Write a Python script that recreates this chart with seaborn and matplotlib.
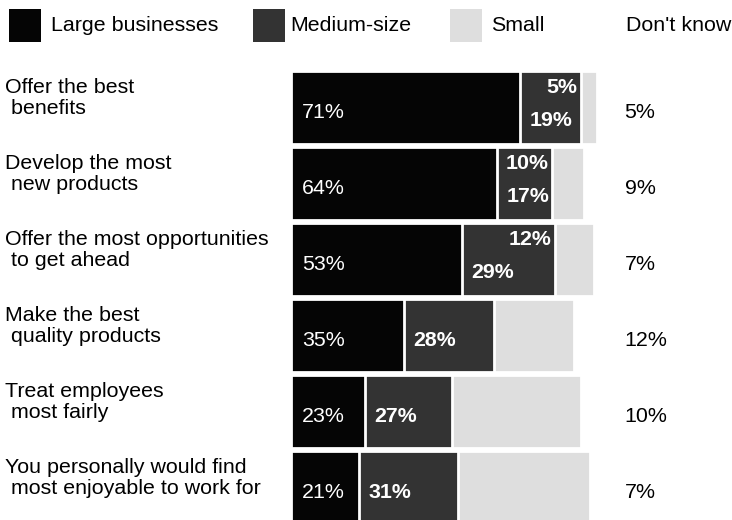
import matplotlib
matplotlib.use("Agg")
import matplotlib.pyplot as plt
import seaborn as sns
import pandas as pd
from matplotlib.patches import Rectangle
from matplotlib.transforms import blended_transform_factory

# ---- data ----
categories = [
    "Offer the best\n benefits",
    "Develop the most\n new products",
    "Offer the most opportunities\n to get ahead",
    "Make the best\n quality products",
    "Treat employees\n most fairly",
    "You personally would find\n most enjoyable to work for",
]
large = [71, 64, 53, 35, 23, 21]
medium = [19, 17, 29, 28, 27, 31]
small = [5, 10, 12, 25, 40, 41]
dont_know = [5, 9, 7, 12, 10, 7]
small_labeled = [True, True, True, False, False, False]
legend_labels = ["Large businesses", "Medium-size", "Small", "Don't know"]

# ---- style ----
LARGE_C = "#050505"
MED_C = "#333333"
SMALL_C = "#dedede"
FS = 15.4

sns.set_theme(style="white")
plt.rcParams["font.family"] = ["Liberation Sans", "DejaVu Sans"]

W, H = 732, 520
fig = plt.figure(figsize=(W / 100, H / 100), dpi=100)
fig.patch.set_facecolor("white")
ax = fig.add_axes([291 / W, (H - 525.5) / H, 322 / W, 456 / H])

df = pd.DataFrame({"category": categories, "large": large,
                   "medium": medium, "small": small})
df["lm"] = df["large"] + df["medium"]
df["lms"] = df["lm"] + df["small"]

for col, color in [("lms", SMALL_C), ("lm", MED_C), ("large", LARGE_C)]:
    sns.barplot(data=df, y="category", x=col, order=categories, orient="h",
                color=color, saturation=1, width=0.97, edgecolor="white",
                linewidth=2, errorbar=None, ax=ax)

ax.set_xlim(0, 100)
ax.set_ylim(5.5, -0.5)
ax.axis("off")

# category labels at left of figure
tr = blended_transform_factory(fig.transFigure, ax.transData)
for i, cat in enumerate(categories):
    ax.text(5 / W, i - 0.125, cat, transform=tr, ha="left", va="center",
            fontsize=FS, color="black", linespacing=1.12, clip_on=False)

# value labels
for i in range(len(categories)):
    L, M, S, D = large[i], medium[i], small[i], dont_know[i]
    ax.text(3.4, i + 0.06, f"{L}%", ha="left", va="center", color="white",
            fontsize=FS)
    if small_labeled[i]:
        ax.text(L + 3, i + 0.17, f"{M}%", ha="left", va="center",
                color="white", fontsize=FS, fontweight="bold")
        ax.text(L + M - 1, i - 0.26, f"{S}%", ha="right", va="center",
                color="white", fontsize=FS, fontweight="bold")
    else:
        ax.text(L + 3, i + 0.06, f"{M}%", ha="left", va="center",
                color="white", fontsize=FS, fontweight="bold")
    ax.text(103.6, i + 0.06, f"{D}%", ha="left", va="center", color="black",
            fontsize=FS, clip_on=False)

# legend
patch_x = [9, 253, 450]
patch_c = [LARGE_C, MED_C, SMALL_C]
for x0, c in zip(patch_x, patch_c):
    fig.patches.append(Rectangle((x0 / W, 1 - 42 / H), 32 / W, 33 / H,
                                 transform=fig.transFigure, facecolor=c,
                                 edgecolor="none"))
text_x = [51, 290.5, 491, 625.5]
for x0, lab in zip(text_x, legend_labels):
    fig.text(x0 / W, 1 - 31 / H, lab, ha="left", va="baseline",
             fontsize=FS, color="black")

fig.savefig("out.png", dpi=100, facecolor="white")
